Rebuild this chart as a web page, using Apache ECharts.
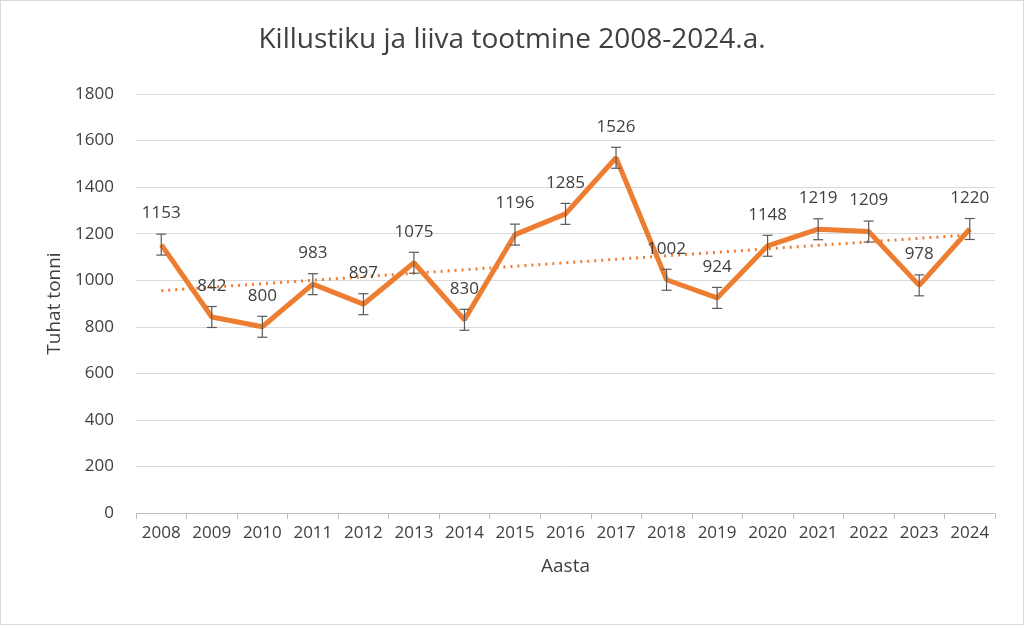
<!DOCTYPE html>
<html><head><meta charset="utf-8">
<script src="https://cdn.jsdelivr.net/npm/echarts@6/dist/echarts.min.js"></script>
<style>html,body{margin:0;padding:0;background:#fff}#c{width:1022px;height:623px;border:1px solid #d9d9d9}</style>
</head><body><div id="c"></div>
<script>
const years = ['2008','2009','2010','2011','2012','2013','2014','2015','2016','2017','2018','2019','2020','2021','2022','2023','2024'];
const values = [1153,842,800,983,897,1075,830,1196,1285,1526,1002,924,1148,1219,1209,978,1220];
const errorAmount = 45;
const trendEnds = [955,1195];
const trend = years.map((y,i)=> i===0?trendEnds[0]:(i===years.length-1?trendEnds[1]:null));
const txt = '#404040';
const font = 'Open Sans, Noto Sans, sans-serif';
const chart = echarts.init(document.getElementById('c'));
chart.setOption({
  animation:false,
  textStyle:{fontFamily:font},
  title:{text:'Killustiku ja liiva tootmine 2008-2024.a.',left:'center',top:20,textStyle:{fontSize:28,fontWeight:'normal',color:txt,fontFamily:font}},
  grid:{left:135,right:28,top:93,bottom:111},
  xAxis:{type:'category',data:years,name:'Aasta',nameLocation:'middle',nameGap:44,nameTextStyle:{fontSize:19,color:txt},
    axisLine:{lineStyle:{color:'#bfbfbf'}},axisTick:{show:true,interval:0,alignWithLabel:false,length:6,lineStyle:{color:'#bfbfbf'}},
    axisLabel:{fontSize:17,color:txt,interval:0,margin:12}},
  yAxis:{type:'value',min:0,max:1800,interval:200,name:'Tuhat tonni',nameLocation:'middle',nameGap:72,nameTextStyle:{fontSize:19,color:txt},
    axisLine:{show:false},axisTick:{show:false},axisLabel:{fontSize:17,color:txt,margin:22,formatter:v=>String(v)},
    splitLine:{lineStyle:{color:'#d9d9d9'}}},
  series:[
    {type:'line',data:trend,connectNulls:true,symbol:'none',lineStyle:{color:'#ed7d31',width:3,type:[2,5]},z:2},
    {type:'line',data:values,symbol:'circle',symbolSize:1,showSymbol:true,itemStyle:{color:'#ed7d31'},lineStyle:{color:'#ed7d31',width:5},z:3,
      label:{show:true,position:'top',distance:22,fontSize:17,color:txt}},
    {type:'custom',z:4,data:values.map((v,i)=>[i,v]),
      renderItem:function(params,api){
        const i=api.value(0),v=api.value(1);
        const hi=api.coord([i,v+errorAmount]),lo=api.coord([i,v-errorAmount]);
        const x=hi[0],w=5;
        const s={stroke:'#595959',lineWidth:1.2};
        return {type:'group',children:[
          {type:'line',shape:{x1:x,y1:hi[1],x2:x,y2:lo[1]},style:s},
          {type:'line',shape:{x1:x-w,y1:hi[1],x2:x+w,y2:hi[1]},style:s},
          {type:'line',shape:{x1:x-w,y1:lo[1],x2:x+w,y2:lo[1]},style:s}]};
      }}
  ]
});
</script></body></html>
